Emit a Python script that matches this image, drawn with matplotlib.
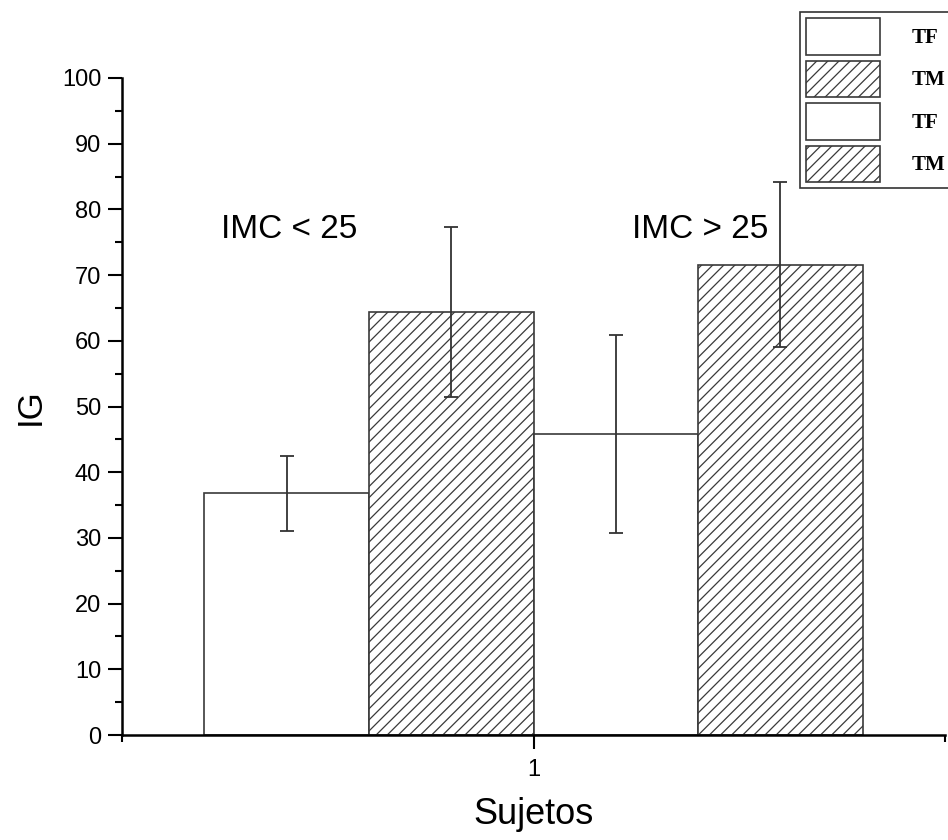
import numpy as np
import matplotlib.pyplot as plt
from matplotlib.patches import Patch

# values
groups = ['IMC < 25', 'IMC > 25']
series = ['TF', 'TM']
means = [36.8, 64.4, 45.8, 71.6]     # TF<25, TM<25, TF>25, TM>25
errors = [5.7, 12.9, 15.1, 12.5]
hatches = ['', '///', '', '///']
group_label_pos = [(0.703, 77.0), (1.203, 77.0)]

plt.rcParams['font.family'] = ['Liberation Sans', 'DejaVu Sans']
plt.rcParams['hatch.linewidth'] = 0.9

fig = plt.figure(figsize=(9.48, 8.4), dpi=100)
ax = fig.add_axes([122/948, 105/840, (945-122)/948, (735-78)/840])

width = 0.2
xs = 1 + width * (np.arange(4) - 1.5)
for x, m, e, h in zip(xs, means, errors, hatches):
    ax.bar(x, m, width=width, facecolor='white', edgecolor='#3a3a3a',
           linewidth=1.2, hatch=h, zorder=2)
    ax.errorbar(x, m, yerr=e, fmt='none', ecolor='#333333', elinewidth=1.3,
                capsize=4.7, capthick=1.3, zorder=3)

for txt, (gx, gy) in zip(groups, group_label_pos):
    ax.text(gx, gy, txt, ha='center', va='center', fontsize=24, color='black')

ax.set_xlim(0.5, 1.5)
ax.set_ylim(0, 100)
ax.set_xticks([1])
ax.set_xticks([0.5, 1.5], minor=True)
ax.set_yticks(np.arange(0, 101, 10))
ax.set_yticks(np.arange(5, 100, 10), minor=True)
ax.tick_params(axis='both', which='major', direction='out', length=10,
               width=1.5, labelsize=17, pad=5)
ax.tick_params(axis='both', which='minor', direction='out', length=5, width=1.5)
ax.tick_params(axis='x', which='major', pad=7)

for side in ['top', 'right']:
    ax.spines[side].set_visible(False)
for side in ['left', 'bottom']:
    ax.spines[side].set_linewidth(1.8)

ax.set_xlabel('Sujetos', fontsize=26, labelpad=12)
ax.set_ylabel('IG', fontsize=25, labelpad=11)

handles = []
labels = []
for i in range(4):
    handles.append(Patch(facecolor='white', edgecolor='#3a3a3a', linewidth=1.2,
                         hatch=hatches[i]))
    labels.append(series[i % 2])
leg = fig.legend(handles, labels, loc='upper left', bbox_to_anchor=(800/948, 1 - 12/840),
                 frameon=True, fancybox=False, edgecolor='#333333', framealpha=1,
                 handlelength=3.55, handleheight=2.3, labelspacing=0.3,
                 handletextpad=1.5, borderpad=0.3, borderaxespad=0,
                 prop={'family': 'Liberation Serif', 'weight': 'bold', 'size': 15})
leg.get_frame().set_linewidth(1.2)

fig.savefig('out.png', dpi=100)
